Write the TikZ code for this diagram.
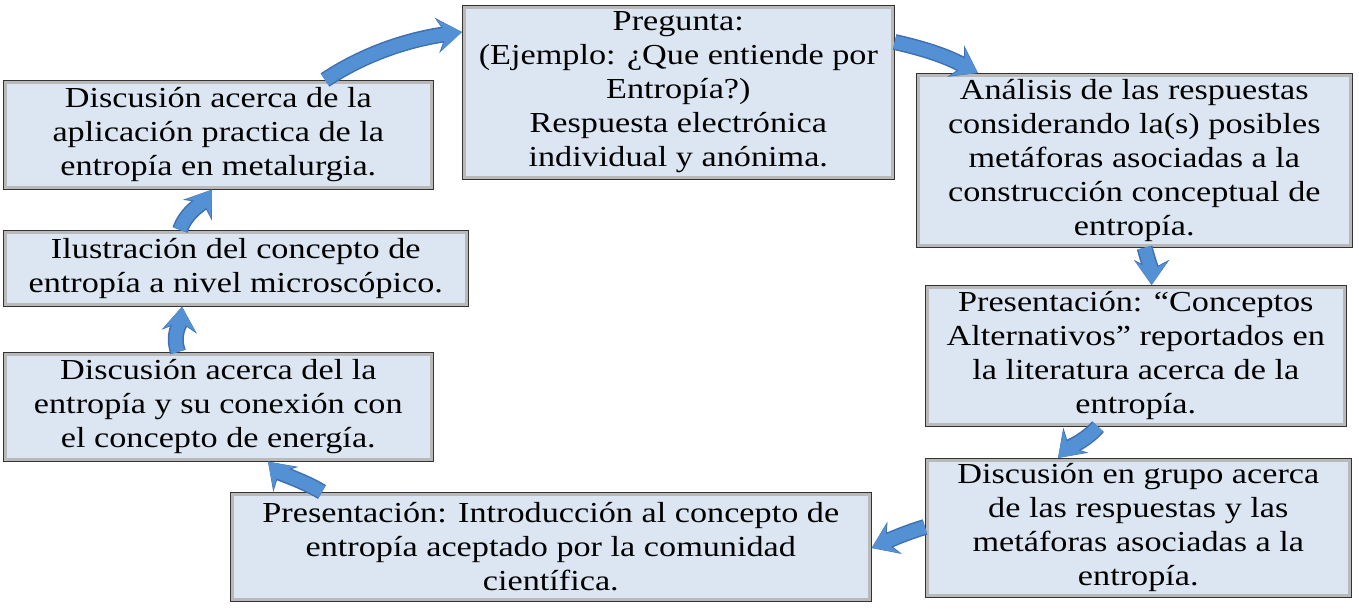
\documentclass[tikz,border=0pt]{standalone}
\usepackage{fontspec}
\setmainfont{Liberation Serif}
\newfontfamily\boxfont[FakeStretch=1.18]{Liberation Serif}
\usetikzlibrary{arrows.meta}
\definecolor{boxfill}{RGB}{220,230,242}
\definecolor{arrfill}{RGB}{84,144,212}
\definecolor{arredge}{RGB}{62,112,178}
\tikzset{
  stepbox/.style={anchor=north west, draw=black!80, line width=1.6pt, fill=boxfill,
    inner sep=0pt, align=center, font=\boxfont\fontsize{29}{34}\selectfont},
  innerband/.style={draw=gray!55, line width=2.6pt},
  flowedge/.style={draw=arredge, line width=16pt,
    -{Stealth[length=25pt,width=35pt,inset=9pt]}},
  flowfill/.style={draw=arrfill, line width=13pt,
    -{Stealth[length=23pt,width=31pt,inset=8pt]}},
}
\newcommand{\band}[1]{\draw[innerband] ([shift={(2.2pt,-2.2pt)}]#1.north west) rectangle ([shift={(-2.2pt,2.2pt)}]#1.south east);}
\newcommand{\flow}[1]{\draw[flowedge] #1; \draw[flowfill] #1;}
\begin{document}
\begin{tikzpicture}[x=1pt,y=-1pt]
\useasboundingbox[fill=white] (0,0) rectangle (1359,614);

\node[stepbox, minimum width=431pt, minimum height=173pt] (b1) at (462,5)
  {Pregunta:\\(Ejemplo: ¿Que entiende por\\Entropía?)\\Respuesta electrónica\\individual y anónima.};
\node[stepbox, minimum width=435pt, minimum height=173pt] (b2) at (916,73)
  {Análisis de las respuestas\\considerando la(s) posibles\\metáforas asociadas a la\\construcción conceptual de\\entropía.};
\node[stepbox, minimum width=420pt, minimum height=140pt] (b3) at (925,285)
  {Presentación: “Conceptos\\Alternativos” reportados en\\la literatura acerca de la\\entropía.};
\node[stepbox, minimum width=425pt, minimum height=138pt] (b4) at (925,458)
  {Discusión en grupo acerca\\de las respuestas y las\\metáforas asociadas a la\\entropía.};
\node[stepbox, minimum width=640pt, minimum height=108pt] (b5) at (230,492)
  {Presentación: Introducción al concepto de\\entropía aceptado por la comunidad\\científica.};
\node[stepbox, minimum width=429pt, minimum height=108pt] (b6) at (3,352)
  {Discusión acerca del la\\entropía y su conexión con\\el concepto de energía.};
\node[stepbox, minimum width=464pt, minimum height=75pt] (b7) at (3,230)
  {Ilustración del concepto de\\entropía a nivel microscópico.};
\node[stepbox, minimum width=429pt, minimum height=108pt] (b8) at (3,80)
  {Discusión acerca de la\\aplicación practica de la\\entropía en metalurgia.};

\foreach \b in {b1,b2,b3,b4,b5,b6,b7,b8} {\band{\b}}

% connectors
\coordinate (s1) at ([xshift=322pt]b8.north west);
\coordinate (e1) at ([yshift=-27pt]b1.north west);
\flow{(s1) .. controls +(45,-30) and +(-45,6) .. (e1)}

\coordinate (s2) at ([yshift=-37pt]b1.north east);
\coordinate (e2) at ([xshift=62pt]b2.north west);
\flow{(s2) .. controls +(35,8) and +(-30,-16) .. (e2)}

\coordinate (s3) at ([xshift=-208pt]b2.south east);
\coordinate (e3) at ([xshift=-195pt]b3.north east);
\flow{(s3) .. controls +(4,15) and +(0,-15) .. (e3)}

\coordinate (s4) at ([xshift=173pt]b3.south west);
\coordinate (e4) at ([xshift=133pt]b4.north west);
\flow{(s4) .. controls +(-12,14) and +(10,-10) .. (e4)}

\coordinate (s5) at ([yshift=-69pt]b4.north west);
\coordinate (e5) at ([yshift=-56pt]b5.north east);
\flow{(s5) .. controls +(-20,6) and +(18,-8) .. (e5)}

\coordinate (s6) at ([xshift=92pt]b5.north west);
\coordinate (e6) at ([xshift=265pt]b6.south west);
\flow{(s6) .. controls +(-20,-12) and +(12,12) .. (e6)}

\coordinate (s7) at ([xshift=175pt]b6.north west);
\coordinate (e7) at ([xshift=179pt]b7.south west);
\flow{(s7) .. controls +(-6,-18) and +(-2,18) .. (e7)}

\coordinate (s8) at ([xshift=177pt]b7.north west);
\coordinate (e8) at ([xshift=209pt]b8.south west);
\flow{(s8) .. controls +(6,-18) and +(-10,14) .. (e8)}
\end{tikzpicture}
\end{document}
